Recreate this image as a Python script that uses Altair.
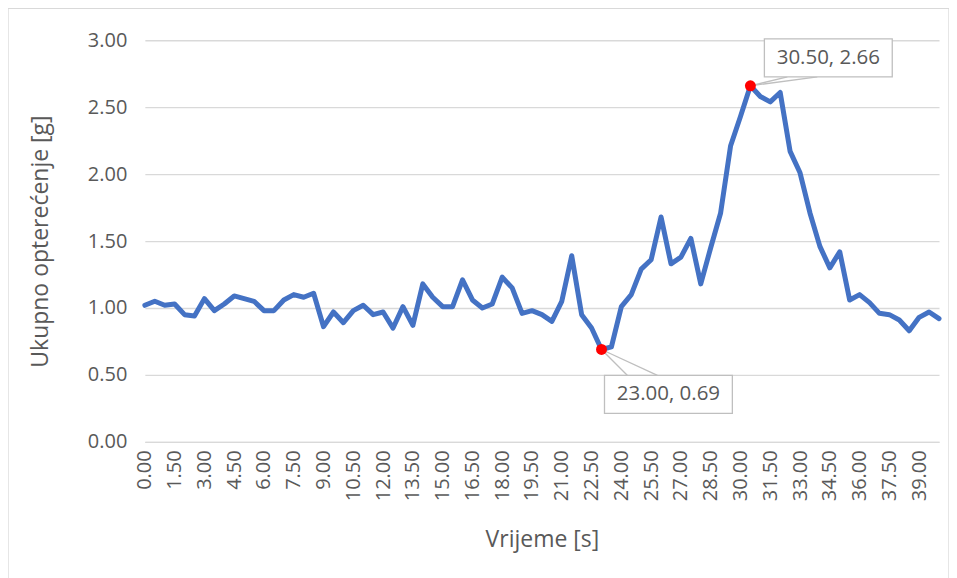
import altair as alt
import pandas as pd

# ---- data ----
times = [round(0.5 * i, 1) for i in range(81)]
values = [1.02, 1.05, 1.02, 1.03, 0.95, 0.94, 1.07, 0.98, 1.03, 1.09,
          1.07, 1.05, 0.98, 0.98, 1.06, 1.10, 1.08, 1.11, 0.86, 0.97,
          0.89, 0.98, 1.02, 0.95, 0.97, 0.85, 1.01, 0.87, 1.18, 1.08,
          1.01, 1.01, 1.21, 1.06, 1.00, 1.03, 1.23, 1.15, 0.96, 0.98,
          0.95, 0.90, 1.05, 1.39, 0.95, 0.85, 0.69, 0.71, 1.01, 1.10,
          1.29, 1.36, 1.68, 1.33, 1.38, 1.52, 1.18, 1.45, 1.71, 2.21,
          2.43, 2.66, 2.58, 2.54, 2.61, 2.17, 2.01, 1.71, 1.46, 1.30,
          1.42, 1.06, 1.10, 1.04, 0.96, 0.95, 0.91, 0.83, 0.93, 0.97,
          0.92]
x_ticks = [0.0, 1.5, 3.0, 4.5, 6.0, 7.5, 9.0, 10.5, 12.0, 13.5, 15.0, 16.5,
           18.0, 19.5, 21.0, 22.5, 24.0, 25.5, 27.0, 28.5, 30.0, 31.5, 33.0,
           34.5, 36.0, 37.5, 39.0]
y_ticks = [0.0, 0.5, 1.0, 1.5, 2.0, 2.5, 3.0]

df = pd.DataFrame({"t": times, "g": values})
i_min = values.index(min(values))
i_max = values.index(max(values))
ann_min = pd.DataFrame({"t": [times[i_min]], "g": [values[i_min]],
                        "label": [f"{times[i_min]:.2f}, {values[i_min]:.2f}"]})
ann_max = pd.DataFrame({"t": [times[i_max]], "g": [values[i_max]],
                        "label": [f"{times[i_max]:.2f}, {values[i_max]:.2f}"]})

FONT = "Open Sans"
GREY = "#595959"
W, H = 795, 402

x_axis = alt.Axis(values=x_ticks, format=".2f", labelAngle=270,
                  labelPadding=8, ticks=False, domain=True,
                  domainColor="#d9d9d9", domainWidth=1.3, grid=False,
                  title="Vrijeme [s]", titleY=98, titleBaseline="middle",
                  labelFlush=False, labelOverlap=False, labelBound=False)
y_axis = alt.Axis(values=y_ticks, format=".2f", labelPadding=18,
                  ticks=False, domain=False, grid=True,
                  gridColor="#d9d9d9", gridWidth=1.3,
                  title="Ukupno opterećenje [g]", titleAngle=270,
                  titleX=-104, titleY=H / 2, titleAlign="center",
                  titleBaseline="middle")
x_scale = alt.Scale(domain=[0, 40], nice=False, zero=False)
y_scale = alt.Scale(domain=[0, 3], nice=False)


def X():
    return alt.X("t:Q", scale=x_scale, axis=x_axis)


def Y():
    return alt.Y("g:Q", scale=y_scale, axis=y_axis)


frame = alt.Chart(alt.Data(values=[{}])).mark_rect(
    fill=None, stroke="#d9d9d9", strokeWidth=1.3
).encode(x=alt.value(-137), x2=alt.value(805), y=alt.value(-32), y2=alt.value(540))

line = alt.Chart(df).mark_line(color="#4472C4", strokeWidth=5,
                               strokeJoin="round", strokeCap="round").encode(x=X(), y=Y())


def callout(data, box_dx, box_dy, bw, bh, l1, l2):
    base = alt.Chart(data)
    enc = dict(x=X(), y=Y(), x2="t:Q", y2="g:Q")
    r1 = base.mark_rule(color="#bfbfbf", strokeWidth=1.3,
                        x2Offset=l1[0], y2Offset=l1[1]).encode(**enc)
    r2 = base.mark_rule(color="#bfbfbf", strokeWidth=1.3,
                        x2Offset=l2[0], y2Offset=l2[1]).encode(**enc)
    box = base.mark_rect(fill="white", stroke="#bfbfbf", strokeWidth=1.3,
                         xOffset=box_dx - bw / 2, x2Offset=box_dx + bw / 2,
                         yOffset=box_dy - bh / 2, y2Offset=box_dy + bh / 2).encode(**enc)
    txt = base.mark_text(font=FONT, fontSize=20.5, color=GREY, dx=box_dx, dy=box_dy,
                         align="center", baseline="middle").encode(
        x=X(), y=Y(), text="label:N")
    pt = base.mark_point(filled=True, color="#FF0000", size=120, opacity=1).encode(
        x=X(), y=Y())
    return [r1, r2, box, txt, pt]


layers = [frame, line]
layers += callout(ann_min, 67, 45, 128, 38, (26, 26), (56, 26))
layers += callout(ann_max, 78, -28, 128, 38, (37, -9), (67, -9))

chart = alt.layer(*layers).properties(
    width=W, height=H,
    background="white",
    autosize=alt.AutoSizeParams(type="none"),
    padding={"left": 137, "top": 32, "right": 10, "bottom": 136},
).configure_view(stroke=None).configure_axis(
    labelFont=FONT, labelFontSize=20, labelColor=GREY, labelOverlap=False,
    titleFont=FONT, titleFontSize=23, titleColor=GREY, titleFontWeight="normal",
)

chart.save("out.html", embed_options={"renderer": "svg", "actions": False})
